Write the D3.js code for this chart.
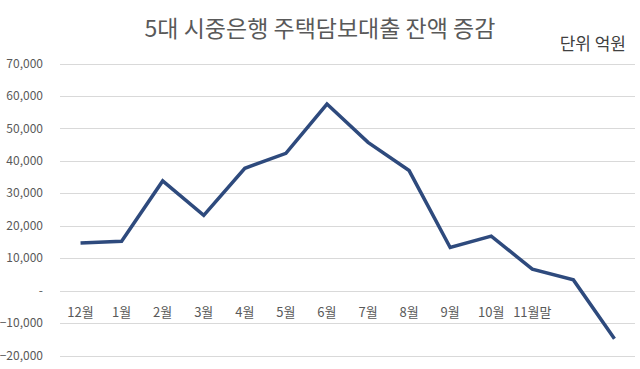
<!DOCTYPE html>
<html><head><meta charset="utf-8">
<script src="https://cdn.jsdelivr.net/npm/d3@7"></script>
<style>body{margin:0;background:#fff;} svg{display:block;}</style>
</head><body>
<svg id="chart" width="640" height="369"></svg>
<script>
const categories = ["12월","1월","2월","3월","4월","5월","6월","7월","8월","9월","10월","11월말","",""];
const values = [14700,15200,33800,23200,37700,42300,57500,45700,37000,13300,16800,6600,3300,-14800];
const yTicks = [-20000,-10000,0,10000,20000,30000,40000,50000,60000,70000];
const titleText = "5대 시중은행 주택담보대출 잔액 증감";
const unitText = "단위 억원";

(function () {
const svg = d3.select("#chart");
const font = "'Noto Sans CJK KR','Noto Sans',sans-serif";
const pLeft = 60, pRight = 635, pTop = 63.5, pBottom = 355.5;
const x = d3.scaleBand().domain(d3.range(categories.length)).range([pLeft, pRight]);
const y = d3.scaleLinear().domain([-20000, 70000]).range([pBottom, pTop]);

// gridlines
svg.append("g").selectAll("line").data(yTicks).join("line")
  .attr("x1", pLeft).attr("x2", pRight)
  .attr("y1", d => Math.round(y(d)) + 0.5).attr("y2", d => Math.round(y(d)) + 0.5)
  .attr("stroke", "#d9d9d9").attr("stroke-width", 1);

// y axis labels
const fmt = d3.format(",");
svg.append("g").selectAll("text").data(yTicks).join("text")
  .attr("x", 43).attr("y", d => y(d)).attr("dy", "0.35em")
  .attr("text-anchor", "end").attr("font-family", font).attr("font-size", 12)
  .attr("fill", "#595959")
  .text(d => d === 0 ? "-" : fmt(d));

// x labels
svg.append("g").selectAll("text").data(categories).join("text")
  .attr("x", (d, i) => x(i) + x.bandwidth() / 2).attr("y", y(0) + 26)
  .attr("text-anchor", "middle").attr("font-family", font).attr("font-size", 13)
  .attr("fill", "#595959")
  .text(d => d);

// line
const line = d3.line().x((d, i) => x(i) + x.bandwidth() / 2).y(d => y(d));
svg.append("path").datum(values).attr("d", line)
  .attr("fill", "none").attr("stroke", "#2E4A7D").attr("stroke-width", 3.5)
  .attr("stroke-linejoin", "miter");

// title
svg.append("text").attr("x", 320).attr("y", 37).attr("text-anchor", "middle")
  .attr("font-family", font).attr("font-size", 23).attr("fill", "#595959")
  .text(titleText);
svg.append("text").attr("x", 626).attr("y", 50).attr("text-anchor", "end")
  .attr("font-family", font).attr("font-size", 17).attr("fill", "#404040")
  .text(unitText);
})();
</script>
</body></html>
